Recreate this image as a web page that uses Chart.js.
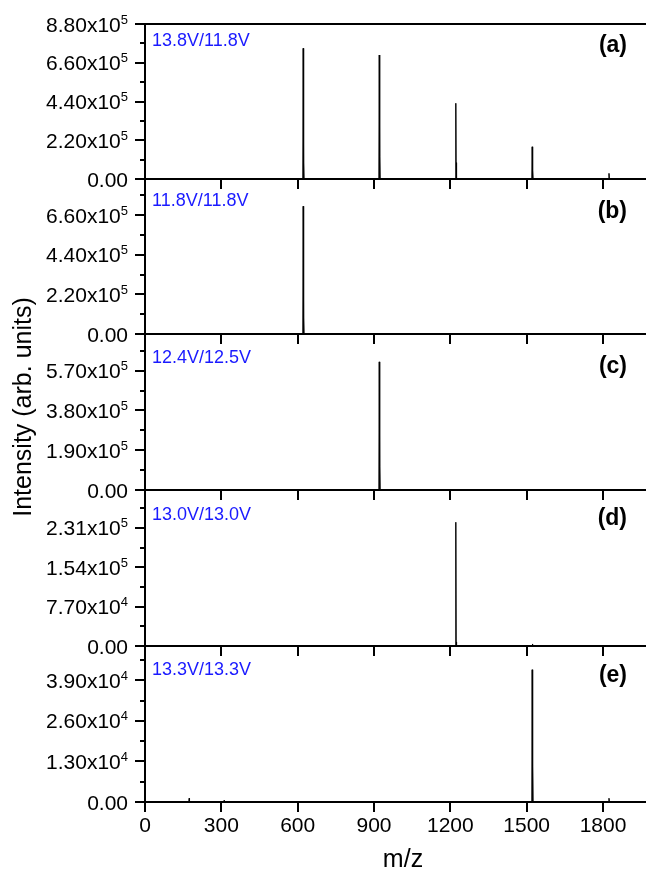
<!DOCTYPE html>
<html>
<head>
<meta charset="utf-8">
<title>m/z spectra</title>
<script src="https://cdn.jsdelivr.net/npm/chart.js@4.4.1/dist/chart.umd.min.js"></script>
<style>
  body { margin: 0; background: #fff; }
  #wrap { position: relative; width: 646px; height: 871px; }
  #wrap canvas { position: absolute; left: 0; top: 0; }
</style>
</head>
<body>
<div id="wrap">
  <canvas id="pa" width="646" height="871"></canvas>
  <canvas id="pb" width="646" height="871"></canvas>
  <canvas id="pc" width="646" height="871"></canvas>
  <canvas id="pd" width="646" height="871"></canvas>
  <canvas id="pe" width="646" height="871"></canvas>
</div>
<script>
// ---- data ----
const xTicks = [0, 300, 600, 900, 1200, 1500, 1800];
const xTickLabels = ['0', '300', '600', '900', '1200', '1500', '1800'];
const xMax = 1965;

// (a) 13.8V/11.8V
const mzA  = [0, 620, 621.5, 623, 624, 625, 919, 920.5, 922, 923, 924, 1220, 1221.5, 1223, 1224, 1225, 1520, 1521.5, 1523, 1524, 1525, 1822, 1823.5, 1825, 1965];
const intA = [0, 0, 7.42e5, 0, 0.91e5, 0, 0, 7.04e5, 0, 1.27e5, 0, 0, 4.30e5, 0, 0.93e5, 0, 0, 1.83e5, 0, 0.47e5, 0, 0, 0.32e5, 0, 0];
const yTicksA = [0, 2.2e5, 4.4e5, 6.6e5, 8.8e5];
const yBaseA  = ['0.00', '2.20x10', '4.40x10', '6.60x10', '8.80x10'];
const yExpA   = ['', '5', '5', '5', '5'];
const yMinorA = [1.1e5, 3.3e5, 5.5e5, 7.7e5];
const yMaxA = 8.8e5;

// (b) 11.8V/11.8V
const mzB  = [0, 620, 621.5, 623, 624, 625, 920, 921.5, 923, 1221, 1222.5, 1224, 1965];
const intB = [0, 0, 7.09e5, 0, 0.89e5, 0, 0, 0.05e5, 0, 0, 0.04e5, 0, 0];
const yTicksB = [0, 2.2e5, 4.4e5, 6.6e5];
const yBaseB  = ['0.00', '2.20x10', '4.40x10', '6.60x10'];
const yExpB   = ['', '5', '5', '5'];
const yMinorB = [1.1e5, 3.3e5, 5.5e5, 7.7e5];
const yMaxB = 8.6e5;

// (c) 12.4V/12.5V
const mzC  = [0, 919, 920.5, 922, 923, 924, 1221, 1222.5, 1224, 1521, 1522.5, 1524, 1965];
const intC = [0, 0, 6.12e5, 0, 1.11e5, 0, 0, 0.04e5, 0, 0, 0.04e5, 0, 0];
const yTicksC = [0, 1.9e5, 3.8e5, 5.7e5];
const yBaseC  = ['0.00', '1.90x10', '3.80x10', '5.70x10'];
const yExpC   = ['', '5', '5', '5'];
const yMinorC = [0.95e5, 2.85e5, 4.75e5, 6.65e5];
const yMaxC = 7.45e5;

// (d) 13.0V/13.0V
const mzD  = [0, 1220, 1221.5, 1223, 1224, 1225, 1521, 1522.5, 1524, 1965];
const intD = [0, 0, 2.42e5, 0, 0.08e5, 0, 0, 0.04e5, 0, 0];
const yTicksD = [0, 0.77e5, 1.54e5, 2.31e5];
const yBaseD  = ['0.00', '7.70x10', '1.54x10', '2.31x10'];
const yExpD   = ['', '4', '5', '5'];
const yMinorD = [0.385e5, 1.155e5, 1.925e5, 2.695e5];
const yMaxD = 3.05e5;

// (e) 13.3V/13.3V
const mzE  = [0, 172, 173.5, 175, 310, 311, 312, 1520, 1521.5, 1523, 1524, 1525, 1822, 1823.5, 1825, 1965];
const intE = [0, 0, 0.12e4, 0, 0, 0.05e4, 0, 0, 4.24e4, 0, 1.13e4, 0, 0, 0.12e4, 0, 0];
const yTicksE = [0, 1.3e4, 2.6e4, 3.9e4];
const yBaseE  = ['0.00', '1.30x10', '2.60x10', '3.90x10'];
const yExpE   = ['', '4', '4', '4'];
const yMinorE = [0.65e4, 1.95e4, 3.25e4, 4.55e4];
const yMaxE = 5.0e4;

const tags    = ['13.8V/11.8V', '11.8V/11.8V', '12.4V/12.5V', '13.0V/13.0V', '13.3V/13.3V'];
const letters = ['(a)', '(b)', '(c)', '(d)', '(e)'];

// ---- layout (pixels) ----
const H = 871;
const panelTop    = [24, 179, 334, 490, 646];
const panelBottom = [179, 334, 490, 646, 802];
const tagY    = [41, 201.5, 358, 515, 670];
const letterY = [46, 212, 367, 519, 676];
const FONT = '"Liberation Sans", Arial, sans-serif';

const panelDecor = {
  id: 'panelDecor',
  afterDraw(chart, args, opts) {
    const ctx = chart.ctx;
    const area = chart.chartArea;
    const y = chart.scales.y;
    ctx.save();
    ctx.strokeStyle = '#000';
    ctx.lineWidth = 2;
    // minor y ticks
    opts.minor.forEach(v => {
      if (v > y.max) return;
      const py = Math.round(y.getPixelForValue(v));
      ctx.beginPath();
      ctx.moveTo(area.left - 5, py);
      ctx.lineTo(area.left, py);
      ctx.stroke();
    });
    if (opts.topLine) {
      ctx.beginPath();
      ctx.moveTo(area.left, area.top);
      ctx.lineTo(area.right + 1, area.top);
      ctx.stroke();
    }
    // y tick labels with superscript exponents
    ctx.fillStyle = '#000';
    ctx.textBaseline = 'alphabetic';
    const right = area.left - 17;
    opts.ticks.forEach((v, k) => {
      const py = y.getPixelForValue(v);
      ctx.font = '13px ' + FONT;
      const ew = opts.exp[k] ? ctx.measureText(opts.exp[k]).width : 0;
      if (ew) {
        ctx.textAlign = 'left';
        ctx.fillText(opts.exp[k], right - ew, py - 0.5);
      }
      ctx.font = '21px ' + FONT;
      ctx.textAlign = 'right';
      ctx.fillText(opts.base[k], right - ew, py + 7.5);
    });
    // panel tags
    ctx.textBaseline = 'middle';
    ctx.fillStyle = '#1a1aff';
    ctx.font = '18px ' + FONT;
    ctx.textAlign = 'left';
    ctx.fillText(opts.tag, area.left + 7, opts.tagY);
    ctx.fillStyle = '#000';
    ctx.font = 'bold 23px ' + FONT;
    ctx.textAlign = 'right';
    ctx.fillText(opts.letter, 627, opts.letterY);
    if (opts.last) {
      ctx.font = '25px ' + FONT;
      ctx.textAlign = 'center';
      ctx.textBaseline = 'alphabetic';
      ctx.fillText('m/z', 403, 867);
      ctx.translate(31, 407);
      ctx.rotate(-Math.PI / 2);
      ctx.fillText('Intensity (arb. units)', 0, 0);
    }
    ctx.restore();
  }
};

function makePanel(id, i, mz, inten, yMax, yTicks, yBase, yExp, yMinor) {
  const last = i === 4;
  const xh = last ? 40 : 10;
  const points = mz.map((m, k) => ({ x: m, y: inten[k] }));
  new Chart(document.getElementById(id), {
    type: 'line',
    data: {
      datasets: [{
        data: points,
        borderColor: '#000',
        borderWidth: 1,
        borderJoinStyle: 'bevel',
        pointRadius: 0,
        fill: false
      }]
    },
    options: {
      responsive: false,
      animation: false,
      events: [],
      layout: { padding: { left: 0, right: 1, top: panelTop[i], bottom: H - panelBottom[i] - xh } },
      plugins: {
        legend: { display: false },
        tooltip: { enabled: false },
        panelDecor: {
          minor: yMinor, ticks: yTicks, base: yBase, exp: yExp,
          tag: tags[i], letter: letters[i], tagY: tagY[i], letterY: letterY[i],
          topLine: i === 0, last: last
        }
      },
      scales: {
        x: {
          type: 'linear',
          min: 0,
          max: xMax,
          afterBuildTicks: s => { s.ticks = xTicks.map(v => ({ value: v })); },
          afterFit: s => { s.height = xh; },
          grid: { drawOnChartArea: false, color: '#000', lineWidth: 2, tickLength: 10 },
          border: { color: '#000', width: 2 },
          ticks: {
            display: last, color: '#000', font: { size: 21, family: FONT }, padding: 2,
            maxRotation: 0, autoSkip: false, callback: (v, k) => xTickLabels[k]
          }
        },
        y: {
          min: 0,
          max: yMax,
          afterBuildTicks: s => { s.ticks = yTicks.map(v => ({ value: v })); },
          afterFit: s => { s.width = 145; },
          grid: { drawOnChartArea: false, color: '#000', lineWidth: 2, tickLength: 10 },
          border: { color: '#000', width: 2 },
          ticks: { display: false }
        }
      }
    },
    plugins: [panelDecor]
  });
}

makePanel('pa', 0, mzA, intA, yMaxA, yTicksA, yBaseA, yExpA, yMinorA);
makePanel('pb', 1, mzB, intB, yMaxB, yTicksB, yBaseB, yExpB, yMinorB);
makePanel('pc', 2, mzC, intC, yMaxC, yTicksC, yBaseC, yExpC, yMinorC);
makePanel('pd', 3, mzD, intD, yMaxD, yTicksD, yBaseD, yExpD, yMinorD);
makePanel('pe', 4, mzE, intE, yMaxE, yTicksE, yBaseE, yExpE, yMinorE);
</script>
</body>
</html>
